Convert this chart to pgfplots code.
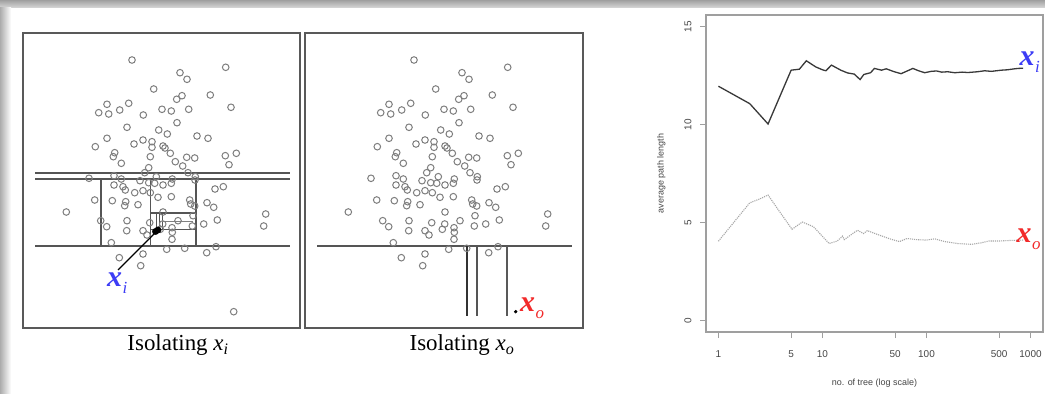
\documentclass[border=0pt]{standalone}
\usepackage{pgfplots}
\usepackage{pgfplotstable}
\pgfplotsset{compat=1.18}
\usepackage{fontspec}
\setmainfont{Liberation Serif}
\newfontfamily\sansf{Liberation Sans}
\definecolor{lblue}{HTML}{3C3CF5}
\definecolor{lred}{HTML}{F22A2A}
\definecolor{ptc}{HTML}{7E7E7E}
\definecolor{partc}{HTML}{555555}

\pgfplotstableread{
u v
109 268
202.7 260.7
157 255.3
164 248.7
130.7 239
187.3 233
159 232.3
153.7 228.7
84 223.7
105.7 224.7
75.7 215.3
85.7 214
96.7 218
120.3 213
139 218.7
148.3 217
165.7 218.7
208 220.7
154 205.3
104 200.7
135.7 198
144.3 194
84 189.7
174 192
185 189.7
72.3 181.3
111 184
120 188
129 186.3
129 180.7
140 182
142 180
202.3 172.3
213.3 174.7
206 163.3
91.7 175.3
98.3 164.7
90.3 171.3
127.3 171.3
147.3 174.7
152.3 166.3
163.7 170.7
171.7 170
159.7 162
125.7 160.3
66 149.7
91 152.3
98.3 149
121.7 155.3
117 147.3
125.7 145.3
133.3 151.3
140 143
131.7 144.7
148.3 144.7
149.3 149
165 155.3
172 148
172.3 151.3
192 139
200.3 141.3
100 141.3
102.3 138
91 143
111.7 135.3
120 137.3
127.3 135.3
135 130.7
148.3 131.3
71.7 128
89.3 127.3
102.7 126.3
101.7 122.3
115 123.3
166.7 128
167.7 124
171.7 122
184 125.3
190.7 120.7
43.3 116
140 116
170 112.3
155 107.3
194.3 108
77.7 107.3
83.7 101.3
104 107.3
103.7 97.3
120 97.3
124 93
126.7 105.3
137.3 98.7
139.7 104
149 100.3
149.3 95.7
169.3 102
180.7 104
242.7 114
240.7 102
149 88.7
88.3 85.3
143.7 78.7
120 74
96.3 70.3
117.7 62.3
183.7 75.3
193 81.3
161.7 79.7
}\pts

\pgfplotstableread{
n len
1 11.96
2 11.07
3 10.03
5 12.78
6 12.83
7 13.26
8.6 12.95
10 12.8
10.8 12.75
12.2 13.04
15 12.78
17.4 12.64
20.2 12.58
23 12.3
25 12.56
29 12.65
31.6 12.87
37 12.78
41 12.85
49 12.7
57 12.6
64 12.72
74 12.87
83 12.76
96 12.65
111 12.72
125 12.74
140 12.68
160 12.7
187 12.65
220 12.68
250 12.66
310 12.7
362 12.75
420 12.72
525 12.78
600 12.8
680 12.84
760 12.87
850 12.88
}\xitab

\pgfplotstableread{
n len
1 4.04
2 6.0
2.5 6.2
3 6.4
3.7 5.7
5.1 4.65
6.4 5.02
8.2 4.78
11.6 3.92
13.9 4.05
15.6 4.3
16.2 4.12
21.7 4.6
24.8 4.43
27 4.58
34 4.38
45 4.15
55 4.02
65 4.18
80 4.12
100 4.1
120 4.16
150 4.02
200 3.92
270 3.88
330 3.95
400 4.05
500 4.05
650 4.08
850 4.1
}\xotab

\pgfplotsset{
  scatterpanel/.style={scale only axis, height=295bp, xmin=0, ymin=0, ymax=295,
    xtick=\empty, ytick=\empty, clip=false,
    axis line style={draw=gray!70!black, line width=1.2bp}},
  part/.style={no marks, draw=partc, line width=1.5bp},
  pt/.style={only marks, mark=o, mark size=3.3bp, mark options={draw=ptc, line width=1bp}},
}
\newcommand{\biglab}[3]{{\color{#1}\fontsize{30}{30}\selectfont\bfseries\itshape #2\kern0.5bp\raisebox{-7bp}{\fontsize{17}{17}\selectfont\mdseries #3}}}

\begin{document}
\begin{tikzpicture}
\useasboundingbox (0bp,0bp) rectangle (1045bp,394bp);
\fill[white] (0bp,0bp) rectangle (1045bp,394bp);
\shade[top color=gray!75, bottom color=gray!30] (0bp,386bp) rectangle (1045bp,394bp);
\shade[left color=gray!65, right color=white] (0bp,0bp) rectangle (11bp,386bp);

% ---- panel 1
\begin{axis}[scatterpanel, at={(23bp,66bp)}, anchor=south west, width=277bp, xmax=277]
\addplot[pt] table[x=u,y=v] {\pts};
\addplot[pt] coordinates {(210.7,16.3)};
\addplot[part] coordinates {(12,155) (267,155)};
\addplot[part] coordinates {(12,149) (267,149)};
\addplot[part] coordinates {(12,82) (267,82)};
\addplot[part] coordinates {(78,149) (78,82)};
\addplot[part] coordinates {(127.5,149) (127.5,82)};
\addplot[part] coordinates {(173,149) (173,82)};
\addplot[part] coordinates {(127.5,115) (173,115)};
\addplot[part] coordinates {(127.5,98.7) (173,98.7)};
\addplot[part, line width=1bp] coordinates {(133,115) (133,98.7)};
\addplot[part, line width=1bp] coordinates {(136.3,115) (136.3,98.7)};
\addplot[part, line width=1bp] coordinates {(139,115) (139,98.7)};
\addplot[part, line width=1bp, draw=gray] coordinates {(139,106.5) (170,106.5)};
\addplot[only marks, mark=*, mark size=3.2bp, black] coordinates {(135,98) (132.5,96.5)};
\addplot[no marks, black, line width=1.2bp] coordinates {(95,58) (132,95)};
\node[anchor=west, inner sep=0] at (axis cs:84,45) {\biglab{lblue}{x}{i}};
\node at (axis cs:155,-17) {\fontsize{23}{23}\selectfont Isolating \textit{x}\textsubscript{\textit{i}}};
\end{axis}

% ---- panel 2
\begin{axis}[scatterpanel, at={(305bp,66bp)}, anchor=south west, width=278bp, xmax=278]
\addplot[pt] table[x=u,y=v] {\pts};
\addplot[only marks, mark=*, mark size=1.5bp, black] coordinates {(210.7,16.3)};
\addplot[part] coordinates {(12,82) (267,82)};
\addplot[part, draw=black!80] coordinates {(162,82) (162,12)};
\addplot[part] coordinates {(172,82) (172,12)};
\addplot[part, draw=gray!70!black] coordinates {(202,82) (202,12)};
\node[anchor=west, inner sep=0] at (axis cs:215,20) {\biglab{lred}{x}{o}};
\node at (axis cs:157,-17) {\fontsize{23}{23}\selectfont Isolating \textit{x}\textsubscript{\textit{o}}};
\end{axis}

% ---- panel 3
\begin{axis}[at={(706bp,62bp)}, anchor=south west, scale only axis, width=337bp, height=317bp,
  xmode=log, log basis x=10, xmin=0.76, xmax=1318, ymin=-0.6, ymax=15.6,
  xtick={1,5,10,50,100,500,1000}, xticklabels={1,5,10,50,100,500,1000},
  xminorticks=false, ytick={0,5,10,15}, yticklabels={0,5,10,15},
  xtick pos=bottom, ytick pos=left,
  tick align=outside, major tick length=6bp,
  axis line style={draw=gray!75, line width=1.1bp},
  tick style={draw=gray!75, line width=1.1bp},
  ticklabel style={font=\sansf\fontsize{10}{10}\selectfont, text=gray!55!black},
  xticklabel style={yshift=-9bp},
  yticklabel style={rotate=90, anchor=south, yshift=5bp},
  xlabel={no. of tree (log scale)}, ylabel={average path length},
  label style={font=\sansf\fontsize{9}{9}\selectfont, text=gray!55!black},
  xlabel style={yshift=-15bp}, ylabel style={yshift=12bp},
  clip=false]
\addplot[no marks, draw=gray!45!black, line width=1.3bp] table[x=n,y=len] {\xitab};
\addplot[no marks, draw=gray!70, line width=1.1bp, densely dotted] table[x=n,y=len] {\xotab};
\node[anchor=west, inner sep=0] at (axis cs:784,13.2) {\biglab{lblue}{x}{i}};
\node[anchor=west, inner sep=0] at (axis cs:733,4.12) {\biglab{lred}{x}{o}};
\end{axis}
\end{tikzpicture}
\end{document}
